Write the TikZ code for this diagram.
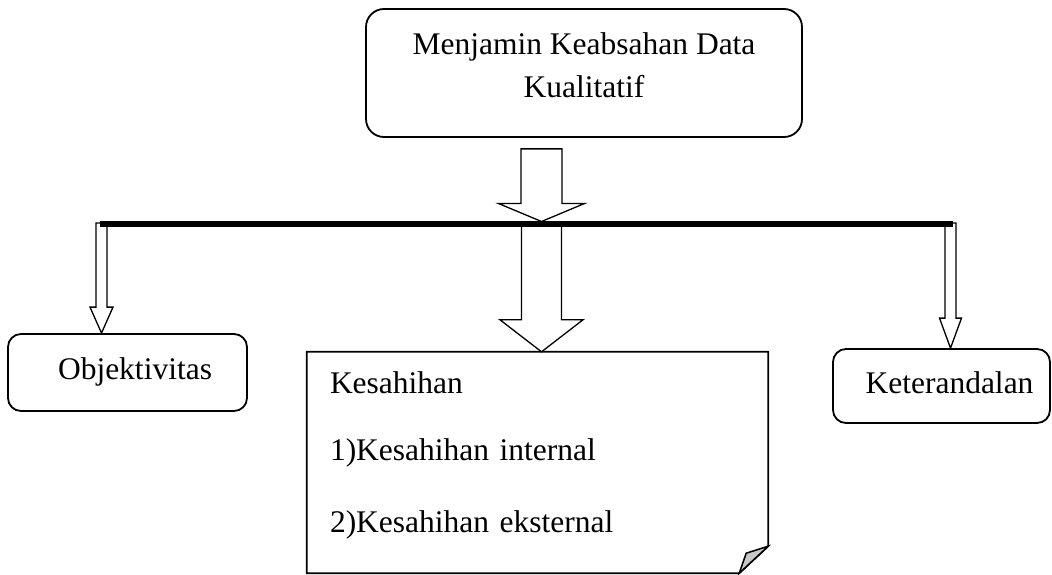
\documentclass[tikz,border=0pt]{standalone}
\usepackage{fontspec}
\setmainfont{Liberation Serif}
\usetikzlibrary{calc}
\definecolor{foldgray}{HTML}{C8C8C8}
\tikzset{
  boxline/.style={draw=black, line width=1.8pt},
  txt/.style={font=\fontsize{31.5}{43}\selectfont},
  rbox/.style={boxline, txt, rounded corners=13pt, inner sep=0pt, text height=22pt, text depth=7.5pt},
  blk/.style={draw=black, line width=1.3pt, fill=white, line join=miter},
  barline/.style={line width=6pt, draw=black},
}
% #1 start coordinate name, #2 tip coordinate name, #3 half shaft width, #4 half head width, #5 head length
\newcommand\blockarr[5]{\draw[blk] let \p1=(#1), \p2=(#2) in
  (\x2-#3,\y1) -- (\x2+#3,\y1) -- (\x2+#3,\y2+#5) -- (\x2+#4,\y2+#5) -- (\x2,\y2)
  -- (\x2-#4,\y2+#5) -- (\x2-#3,\y2+#5) -- cycle;}
\begin{document}
\begin{tikzpicture}[x=1pt,y=-1pt]
\useasboundingbox (0,0) rectangle (1052,575);

% boxes
\node[rbox, rounded corners=18pt, minimum width=436pt, minimum height=128pt,
      align=center, text height=65pt, text depth=15pt] (top) at (584,73)
  {Menjamin Keabsahan Data\\Kualitatif};
\node[rbox, minimum width=239pt, minimum height=77pt] (obj) at (127.5,372.5)
  {\hspace{15pt}Objektivitas};
\node[rbox, minimum width=217pt, minimum height=74pt] (ket) at (941.5,386)
  {\hspace{16pt}Keterandalan};
\node[txt, minimum width=461pt, minimum height=221pt, inner xsep=23pt, inner ysep=0pt,
      text width=415pt, align=left, text height=22pt, text depth=161pt] (kes) at (537.5,462.5)
  {Kesahihan\\[24pt]1)Kesahihan internal\\[29pt]2)Kesahihan eksternal};
\draw[boxline, line join=miter] (kes.north west) -- (kes.north east)
  -- ($(kes.south east)+(0,-27)$) -- ($(kes.south east)+(-29,0)$)
  -- (kes.south west) -- cycle;
\draw[boxline, line width=1.5pt, fill=foldgray, line join=miter]
  ($(kes.south east)+(0,-27)$) -- ($(kes.south east)+(-22,-20)$)
  -- ($(kes.south east)+(-29,0)$) -- cycle;

% junction points on the bar
\coordinate (barL) at (100,224);
\coordinate (barR) at (953,224);
\coordinate (jL) at (101.5,224);
\coordinate (jM) at (541.5,224);
\coordinate (jR) at (950.5,224);

% arrow ends
\coordinate (a0s) at ($(top.south -| jM)+(0,11)$);
\coordinate (a0t) at ($(jM)+(0,-2.5)$);
\coordinate (aLs) at ($(jL)+(0,-1)$);
\coordinate (aLt) at (obj.north -| jL);
\coordinate (aRs) at ($(jR)+(0,-1)$);
\coordinate (aRt) at (ket.north -| jR);
\coordinate (aMt) at (kes.north -| jM);

\blockarr{a0s}{a0t}{20.5pt}{43pt}{18pt}
\blockarr{jM}{aMt}{20pt}{41.5pt}{32pt}
\blockarr{aLs}{aLt}{5.5pt}{11.5pt}{26pt}
\blockarr{aRs}{aRt}{5.5pt}{11pt}{30pt}

\draw[barline] (barL) -- (barR);
\end{tikzpicture}
\end{document}
